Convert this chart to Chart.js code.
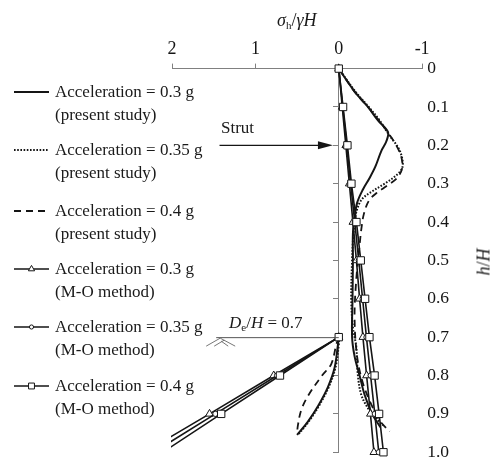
<!DOCTYPE html>
<html>
<head>
<meta charset="utf-8">
<script src="https://cdn.jsdelivr.net/npm/chart.js@4.4.1/dist/chart.umd.min.js"></script>
<style>
  html, body { margin: 0; padding: 0; background: #fff; }
  #wrap { position: relative; width: 502px; height: 459px; font-family: "Liberation Serif", "Times New Roman", serif; color: #1a1a1a; }
  #wrap canvas { position: absolute; left: 0; top: 0; }
  .t { position: absolute; font-size: 17px; line-height: 22px; white-space: nowrap; }
  .t sub { font-size: 11px; vertical-align: -3px; line-height: 0; font-style: normal; }
</style>
</head>
<body>
<div id="wrap">
  <canvas id="c" width="502" height="459"></canvas>
  <div class="t" style="left:277px;top:9px;font-size:18px;"><i>σ</i><sub>h</sub>/<i>γH</i></div>
  <div class="t" style="left:470px;top:251px;font-size:18px;transform:rotate(-90deg);"><i>h</i>/<i>H</i></div>
  <div class="t" style="left:221px;top:117px;">Strut</div>
  <div class="t" style="left:229px;top:312px;"><i>D</i><sub>e</sub>/<i>H</i> = 0.7</div>
  <div id="legend"></div>
</div>
<script>
// M-O method, active side (h/H from 0 to 1)
const moH = [0, 0.1, 0.2, 0.3, 0.4, 0.5, 0.6, 0.7, 0.8, 0.9, 1.0];
const mo03 = [0, -0.042, -0.085, -0.127, -0.170, -0.212, -0.250, -0.290, -0.334, -0.380, -0.422];
const mo035 = [0, -0.048, -0.096, -0.142, -0.192, -0.240, -0.286, -0.332, -0.382, -0.432, -0.480];
const mo04 = [0, -0.052, -0.104, -0.152, -0.212, -0.264, -0.316, -0.368, -0.430, -0.484, -0.536];
// M-O method, passive side below excavation level
const moPassH = [0.7, 0.8, 0.9, 1.0];
const moPass03 = [0, 0.78, 1.55, 2.33];
const moPass035 = [0, 0.74, 1.48, 2.22];
const moPass04 = [0, 0.705, 1.41, 2.11];

// present study curves
const psH03 = [0, 0.06, 0.10, 0.135, 0.165, 0.19, 0.215, 0.255, 0.285, 0.315, 0.35, 0.39, 0.43, 0.50, 0.60, 0.70, 0.75, 0.80, 0.85, 0.90, 0.935];
const ps03 = [0, -0.19, -0.35, -0.47, -0.59, -0.57, -0.51, -0.44, -0.37, -0.29, -0.22, -0.19, -0.17, -0.17, -0.165, -0.16, -0.19, -0.25, -0.31, -0.40, -0.50];
const psH035 = [0, 0.06, 0.10, 0.135, 0.175, 0.205, 0.233, 0.26, 0.28, 0.30, 0.32, 0.34, 0.367, 0.40, 0.45, 0.50, 0.60, 0.675, 0.725, 0.80, 0.85, 0.885, 0.91, 0.93];
const ps035 = [0, -0.20, -0.36, -0.49, -0.61, -0.71, -0.76, -0.76, -0.68, -0.55, -0.40, -0.28, -0.22, -0.19, -0.17, -0.16, -0.15, -0.17, -0.21, -0.23, -0.27, -0.35, -0.44, -0.53];
const psH04 = [0, 0.06, 0.10, 0.135, 0.17, 0.20, 0.23, 0.26, 0.285, 0.305, 0.325, 0.345, 0.38, 0.42, 0.46, 0.55, 0.65, 0.75, 0.82, 0.88, 0.92, 0.946];
const ps04 = [0, -0.19, -0.35, -0.48, -0.60, -0.69, -0.75, -0.76, -0.70, -0.58, -0.45, -0.36, -0.30, -0.27, -0.25, -0.21, -0.19, -0.22, -0.29, -0.40, -0.50, -0.61];
const psPassH03 = [0.7, 0.72, 0.78, 0.83, 0.88, 0.92, 0.955];
const psPass03 = [0, 0.01, 0.05, 0.13, 0.25, 0.37, 0.50];
const psPassH035 = [0.7, 0.72, 0.78, 0.83, 0.88, 0.92, 0.955];
const psPass035 = [0, 0.0, 0.04, 0.12, 0.24, 0.36, 0.49];
const psPassH04 = [0.7, 0.72, 0.77, 0.80, 0.85, 0.89, 0.93, 0.95];
const psPass04 = [0, 0.03, 0.09, 0.20, 0.36, 0.45, 0.49, 0.50];

const legendLabels = [
  ['Acceleration = 0.3 g', '(present study)'],
  ['Acceleration = 0.35 g', '(present study)'],
  ['Acceleration = 0.4 g', '(present study)'],
  ['Acceleration = 0.3 g', '(M-O method)'],
  ['Acceleration = 0.35 g', '(M-O method)'],
  ['Acceleration = 0.4 g', '(M-O method)']
];

// annotations
const strutH = 0.2, strutFrom = 1.43, strutTo = 0.07;
const excH = 0.7, excFrom = 1.47;

const ink = '#151515';
function pts(hs, ss) { return hs.map((h, i) => ({x: ss[i], y: h})); }

const styles = [
  {borderWidth: 2, borderDash: [], pointStyle: false, radius: 0},
  {borderWidth: 2, borderDash: [1.6, 1.6], pointStyle: false, radius: 0},
  {borderWidth: 1.8, borderDash: [7, 5], pointStyle: false, radius: 0},
  {borderWidth: 1.6, borderDash: [], pointStyle: 'triangle', radius: 4.5},
  {borderWidth: 1.6, borderDash: [], pointStyle: 'circle', radius: 2.6},
  {borderWidth: 1.6, borderDash: [], pointStyle: 'rect', radius: 5.2}
];

const series = [
  [pts(psH03, ps03), pts(psPassH03, psPass03)],
  [pts(psH035, ps035), pts(psPassH035, psPass035)],
  [pts(psH04, ps04), pts(psPassH04, psPass04)],
  [pts(moH, mo03), pts(moPassH, moPass03)],
  [pts(moH, mo035), pts(moPassH, moPass035)],
  [pts(moH, mo04), pts(moPassH, moPass04)]
];

const datasets = [];
series.forEach((parts, i) => {
  const s = styles[i];
  parts.forEach(d => {
    datasets.push({
      data: d,
      showLine: true,
      xAxisID: 'x', yAxisID: 'y',
      borderColor: ink,
      backgroundColor: '#fff',
      borderWidth: s.borderWidth,
      borderDash: s.borderDash,
      tension: s.radius ? 0 : 0.35,
      pointStyle: s.pointStyle || 'circle',
      pointRadius: s.radius,
      pointBorderWidth: 1,
      pointBorderColor: ink,
      pointBackgroundColor: '#fff',
      clip: {left: 1, top: 10, right: 10, bottom: 10}
    });
  });
});
// markers on top
datasets.reverse();

const rowY = [92, 150, 211, 269, 327, 386];

const annot = {
  id: 'annot',
  afterDatasetsDraw(chart) {
    const {ctx, scales: {x, y}} = chart;
    ctx.save();
    ctx.strokeStyle = ink; ctx.fillStyle = ink;
    // strut arrow
    const sy = y.getPixelForValue(strutH);
    const sx0 = x.getPixelForValue(strutFrom), sx1 = x.getPixelForValue(strutTo);
    ctx.lineWidth = 1.2;
    ctx.beginPath(); ctx.moveTo(sx0, sy); ctx.lineTo(sx1 - 8, sy); ctx.stroke();
    ctx.beginPath(); ctx.moveTo(sx1, sy); ctx.lineTo(sx1 - 15, sy - 4); ctx.lineTo(sx1 - 15, sy + 4); ctx.closePath(); ctx.fill();
    // excavation level
    const ey = y.getPixelForValue(excH);
    const ex0 = x.getPixelForValue(excFrom), ex1 = x.getPixelForValue(0);
    ctx.strokeStyle = '#555'; ctx.lineWidth = 1;
    ctx.beginPath(); ctx.moveTo(ex0, ey + 0.5); ctx.lineTo(ex1, ey + 0.5); ctx.stroke();
    // ground symbol
    ctx.strokeStyle = '#666'; ctx.lineWidth = 0.9;
    ctx.beginPath();
    ctx.moveTo(ex0 - 10, ey + 9); ctx.lineTo(ex0 + 4, ey + 1); ctx.lineTo(ex0 + 19, ey + 9);
    ctx.moveTo(ex0 - 2, ey + 9); ctx.lineTo(ex0 + 8, ey + 3);
    ctx.moveTo(ex0 + 5, ey + 4); ctx.lineTo(ex0 + 12, ey + 9);
    ctx.stroke();
    // legend samples
    styles.forEach((s, i) => {
      const ly = rowY[i];
      ctx.strokeStyle = ink; ctx.lineWidth = s.borderWidth;
      ctx.setLineDash(s.borderDash);
      ctx.beginPath(); ctx.moveTo(14, ly); ctx.lineTo(49, ly); ctx.stroke();
      ctx.setLineDash([]);
      if (s.pointStyle) {
        ctx.fillStyle = '#fff'; ctx.strokeStyle = ink; ctx.lineWidth = 1;
        Chart.helpers.drawPoint(ctx, {pointStyle: s.pointStyle, radius: s.radius * 0.8, rotation: 0, borderWidth: 1}, 31.5, ly);
      }
    });
    ctx.restore();
  }
};

const legendBox = document.getElementById('legend');
legendLabels.forEach((lines, i) => {
  lines.forEach((txt, k) => {
    const d = document.createElement('div');
    d.className = 't';
    d.style.left = '55px';
    d.style.top = (rowY[i] - 11 + k * 23) + 'px';
    d.textContent = txt;
    legendBox.appendChild(d);
  });
});

const tickFont = {family: 'Liberation Serif', size: 17.5, lineHeight: 0.2};
new Chart(document.getElementById('c'), {
  type: 'scatter',
  data: {datasets: datasets},
  options: {
    responsive: false,
    animation: false,
    layout: {padding: {left: 172, right: 48, top: 34, bottom: 6}},
    plugins: {legend: {display: false}, tooltip: {enabled: false}},
    scales: {
      x: {
        type: 'linear', position: 'top', min: -1, max: 2, reverse: true,
        ticks: {stepSize: 1, font: {family: 'Liberation Serif', size: 18}, color: ink, padding: 4, maxRotation: 0},
        grid: {drawOnChartArea: false, tickLength: 5, color: '#808080'},
        border: {color: '#808080'}
      },
      y: {
        type: 'linear', position: 'right', min: 0, max: 1, reverse: true,
        ticks: {stepSize: 0.1, padding: 5, font: tickFont, color: ink,
          callback: v => v === 0 ? '0' : v.toFixed(1)},
        grid: {display: false, drawTicks: false},
        border: {display: false}
      },
      y2: {
        type: 'linear', position: {x: 0}, min: 0, max: 1, reverse: true,
        ticks: {display: false, stepSize: 0.1},
        grid: {drawOnChartArea: false, tickLength: 5, color: '#808080'},
        border: {color: '#808080'}
      }
    }
  },
  plugins: [annot]
});
</script>
</body>
</html>
